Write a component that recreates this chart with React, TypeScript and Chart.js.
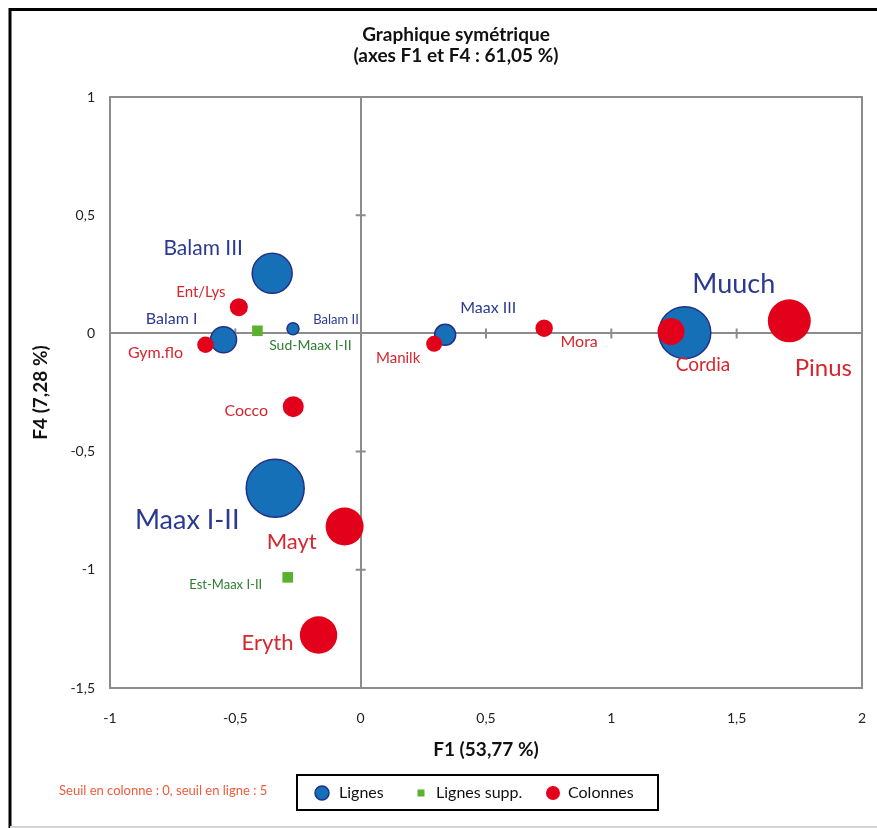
import React, { useEffect, useRef } from 'react';
import { Chart, registerables } from 'chart.js';

Chart.register(...registerables);

// ---- Data ----
const rowNames = ['Balam III', 'Balam I', 'Balam II', 'Maax III', 'Muuch', 'Maax I-II'];
const rowF1 = [-0.353, -0.547, -0.27, 0.337, 1.293, -0.341];
const rowF4 = [0.254, -0.027, 0.02, -0.006, 0.003, -0.655];
const rowBubble = [20, 13, 6, 10.5, 26, 29];

const suppNames = ['Sud-Maax I-II', 'Est-Maax I-II'];
const suppF1 = [-0.412, -0.291];
const suppF4 = [0.011, -1.032];

const colNames = ['Ent/Lys', 'Gym.flo', 'Cocco', 'Mayt', 'Eryth', 'Manilk', 'Mora', 'Cordia', 'Pinus'];
const colF1 = [-0.486, -0.619, -0.269, -0.064, -0.168, 0.293, 0.732, 1.238, 1.71];
const colF4 = [0.111, -0.048, -0.31, -0.817, -1.276, -0.044, 0.022, 0.008, 0.053];
const colBubble = [9, 8.3, 10.5, 19, 18.7, 8, 8.7, 13.5, 21.5];

const xTickValues = [-1, -0.5, 0, 0.5, 1, 1.5, 2];
const yTickValues = [1, 0.5, 0, -0.5, -1, -1.5];

const titleLines = ['Graphique symétrique', '(axes F1 et F4 : 61,05 %)'];
const xTitle = 'F1 (53,77 %)';
const yTitle = 'F4 (7,28 %)';
const legendItems = ['Lignes', 'Lignes supp.', 'Colonnes'];
const noteText = 'Seuil en colonne : 0, seuil en ligne : 5';

// ---- Styles ----
const FONT = 'Lato, "Open Sans", sans-serif';
const BLUE_FILL = '#1670B8';
const BLUE_EDGE = '#232F86';
const BLUE_TEXT = '#2B3990';
const RED_FILL = '#E2001A';
const RED_TEXT = '#D7262D';
const GREEN_FILL = '#5BB12F';
const GREEN_TEXT = '#2E7D32';
const AXIS_GRAY = '#8C8C8C';

// label placement (pixel offset from the mark, font size)
const labelLayout: Record<string, { dx: number; dy: number; size: number }> = {
  'Balam III': { dx: -69, dy: -25, size: 21 },
  'Balam I': { dx: -52, dy: -21, size: 16 },
  'Balam II': { dx: 43, dy: -9, size: 13 },
  'Maax III': { dx: 43, dy: -27, size: 16 },
  'Muuch': { dx: 49, dy: -48, size: 27 },
  'Maax I-II': { dx: -88, dy: 32, size: 27 },
  'Sud-Maax I-II': { dx: 53, dy: 15, size: 14 },
  'Est-Maax I-II': { dx: -62, dy: 7, size: 13 },
  'Ent/Lys': { dx: -38, dy: -15, size: 15 },
  'Gym.flo': { dx: -50, dy: 8, size: 16 },
  'Cocco': { dx: -47, dy: 4, size: 16 },
  'Mayt': { dx: -53, dy: 15, size: 22 },
  'Eryth': { dx: -51, dy: 8, size: 22 },
  'Manilk': { dx: -36, dy: 14, size: 15 },
  'Mora': { dx: 35, dy: 14, size: 16 },
  'Cordia': { dx: 32, dy: 33, size: 19 },
  'Pinus': { dx: 34, dy: 47, size: 24 },
};

const fmt = (v: number | string) => String(v).replace('.', ',');

const decorPlugin = {
  id: 'decor',
  beforeDraw(chart: any) {
    const { ctx, width, height } = chart;
    ctx.save();
    ctx.fillStyle = '#fff';
    ctx.fillRect(0, 0, width, height);
    // outer frame
    ctx.strokeStyle = '#000';
    ctx.lineWidth = 3;
    ctx.beginPath();
    ctx.moveTo(10, height);
    ctx.lineTo(10, 9.5);
    ctx.lineTo(width, 9.5);
    ctx.stroke();
    ctx.strokeStyle = '#d4d4d4';
    ctx.lineWidth = 2;
    ctx.beginPath();
    ctx.moveTo(10, 827);
    ctx.lineTo(width, 827);
    ctx.stroke();
    // title
    ctx.fillStyle = '#111';
    ctx.font = `bold 19px ${FONT}`;
    ctx.textAlign = 'center';
    ctx.textBaseline = 'middle';
    ctx.fillText(titleLines[0], 456, 35);
    ctx.fillText(titleLines[1], 456, 56);
    ctx.restore();
  },
  beforeDatasetsDraw(chart: any) {
    const { ctx, chartArea: a, scales } = chart;
    const xs = scales.x;
    const ys = scales.y;
    ctx.save();
    ctx.strokeStyle = AXIS_GRAY;
    ctx.lineWidth = 2;
    ctx.strokeRect(a.left, a.top, a.right - a.left, a.bottom - a.top);
    const x0 = xs.getPixelForValue(0);
    const y0 = ys.getPixelForValue(0);
    ctx.beginPath();
    xTickValues.forEach((v) => {
      if (v === 0) return;
      const px = xs.getPixelForValue(v);
      ctx.moveTo(px, y0 - 5);
      ctx.lineTo(px, y0 + 5);
    });
    yTickValues.forEach((v) => {
      if (v === 0) return;
      const py = ys.getPixelForValue(v);
      ctx.moveTo(x0 - 5, py);
      ctx.lineTo(x0 + 5, py);
    });
    ctx.stroke();
    ctx.restore();
  },
  afterDatasetsDraw(chart: any) {
    const { ctx } = chart;
    ctx.save();
    ctx.textAlign = 'center';
    ctx.textBaseline = 'middle';
    chart.data.datasets.forEach((ds: any, i: number) => {
      const meta = chart.getDatasetMeta(i);
      ds.names.forEach((name: string, j: number) => {
        const el = meta.data[j];
        const lay = labelLayout[name];
        if (!el || !lay) return;
        ctx.fillStyle = ds.textColor;
        ctx.font = `${lay.size}px ${FONT}`;
        ctx.fillText(name, el.x + lay.dx, el.y + lay.dy);
      });
    });
    ctx.restore();
  },
  afterDraw(chart: any) {
    const { ctx } = chart;
    ctx.save();
    // note
    ctx.fillStyle = '#EF5A3C';
    ctx.font = `13px ${FONT}`;
    ctx.textAlign = 'left';
    ctx.textBaseline = 'middle';
    ctx.fillText(noteText, 59, 791);
    // legend box
    ctx.strokeStyle = '#000';
    ctx.lineWidth = 2;
    ctx.strokeRect(297, 775, 361, 35);
    ctx.font = `16px ${FONT}`;
    // item 1
    ctx.beginPath();
    ctx.arc(322, 793, 7, 0, Math.PI * 2);
    ctx.fillStyle = BLUE_FILL;
    ctx.fill();
    ctx.strokeStyle = BLUE_EDGE;
    ctx.lineWidth = 1.5;
    ctx.stroke();
    ctx.fillStyle = '#111';
    ctx.fillText(legendItems[0], 339, 793);
    // item 2
    ctx.fillStyle = GREEN_FILL;
    ctx.fillRect(417.5, 789.5, 7, 7);
    ctx.fillStyle = '#111';
    ctx.fillText(legendItems[1], 436, 793);
    // item 3
    ctx.beginPath();
    ctx.arc(553, 793, 7, 0, Math.PI * 2);
    ctx.fillStyle = RED_FILL;
    ctx.fill();
    ctx.fillStyle = '#111';
    ctx.fillText(legendItems[2], 568, 793);
    ctx.restore();
  },
};

export default function App() {
  const ref = useRef<HTMLCanvasElement | null>(null);

  useEffect(() => {
    if (!ref.current) return;
    const zeroColor = (c: any) => (c.tick && c.tick.value === 0 ? AXIS_GRAY : 'rgba(0,0,0,0)');
    const chart = new Chart(ref.current, {
      type: 'bubble',
      data: {
        datasets: [
          {
            label: legendItems[2],
            names: colNames,
            textColor: RED_TEXT,
            order: 0,
            data: colF1.map((x, i) => ({ x, y: colF4[i], r: colBubble[i] })),
            backgroundColor: RED_FILL,
            borderColor: RED_FILL,
            borderWidth: 0,
          } as any,
          {
            type: 'scatter',
            label: legendItems[1],
            names: suppNames,
            textColor: GREEN_TEXT,
            order: 1,
            data: suppF1.map((x, i) => ({ x, y: suppF4[i] })),
            pointStyle: 'rect',
            pointRadius: 7.5,
            backgroundColor: GREEN_FILL,
            borderWidth: 0,
            showLine: false,
          } as any,
          {
            label: legendItems[0],
            names: rowNames,
            textColor: BLUE_TEXT,
            order: 2,
            data: rowF1.map((x, i) => ({ x, y: rowF4[i], r: rowBubble[i] })),
            backgroundColor: BLUE_FILL,
            borderColor: BLUE_EDGE,
            borderWidth: 1.5,
          } as any,
        ],
      },
      options: {
        animation: false,
        responsive: false,
        events: [],
        layout: { autoPadding: false, padding: { top: 97, right: 15, left: 0, bottom: 0 } },
        plugins: {
          legend: { display: false },
          tooltip: { enabled: false },
          title: { display: false },
        },
        scales: {
          x: {
            type: 'linear',
            position: 'bottom',
            min: -1,
            max: 2,
            afterBuildTicks: (s: any) => {
              s.ticks = xTickValues.map((v) => ({ value: v }));
            },
            ticks: {
              padding: 22,
              color: '#222',
              font: { family: FONT, size: 14 },
              callback: (v: any) => fmt(v),
            },
            grid: { color: zeroColor, lineWidth: 2, drawTicks: false },
            border: { display: false },
            title: {
              display: true,
              text: xTitle,
              color: '#111',
              font: { family: FONT, size: 19, weight: 'bold' },
              padding: { top: 0, bottom: 67 },
            },
            afterFit: (s: any) => {
              s.height = 140;
              s.paddingLeft = 0;
              s.paddingRight = 0;
            },
          },
          y: {
            type: 'linear',
            min: -1.5,
            max: 1,
            afterBuildTicks: (s: any) => {
              s.ticks = yTickValues.slice().reverse().map((v) => ({ value: v }));
            },
            ticks: {
              padding: 15,
              color: '#222',
              font: { family: FONT, size: 14 },
              callback: (v: any) => fmt(v),
            },
            grid: { color: zeroColor, lineWidth: 2, drawTicks: false },
            border: { display: false },
            title: {
              display: true,
              text: yTitle,
              color: '#111',
              font: { family: FONT, size: 19, weight: 'bold' },
              padding: { top: 29, bottom: 0 },
            },
            afterFit: (s: any) => {
              s.width = 110;
              s.paddingTop = 0;
              s.paddingBottom = 0;
            },
          },
        },
      } as any,
      plugins: [decorPlugin],
    });
    return () => chart.destroy();
  }, []);

  return (
    <div style={{ position: 'absolute', left: 0, top: 0, width: 877, height: 828 }}>
      <canvas ref={ref} width={877} height={828} style={{ display: 'block' }} />
    </div>
  );
}
